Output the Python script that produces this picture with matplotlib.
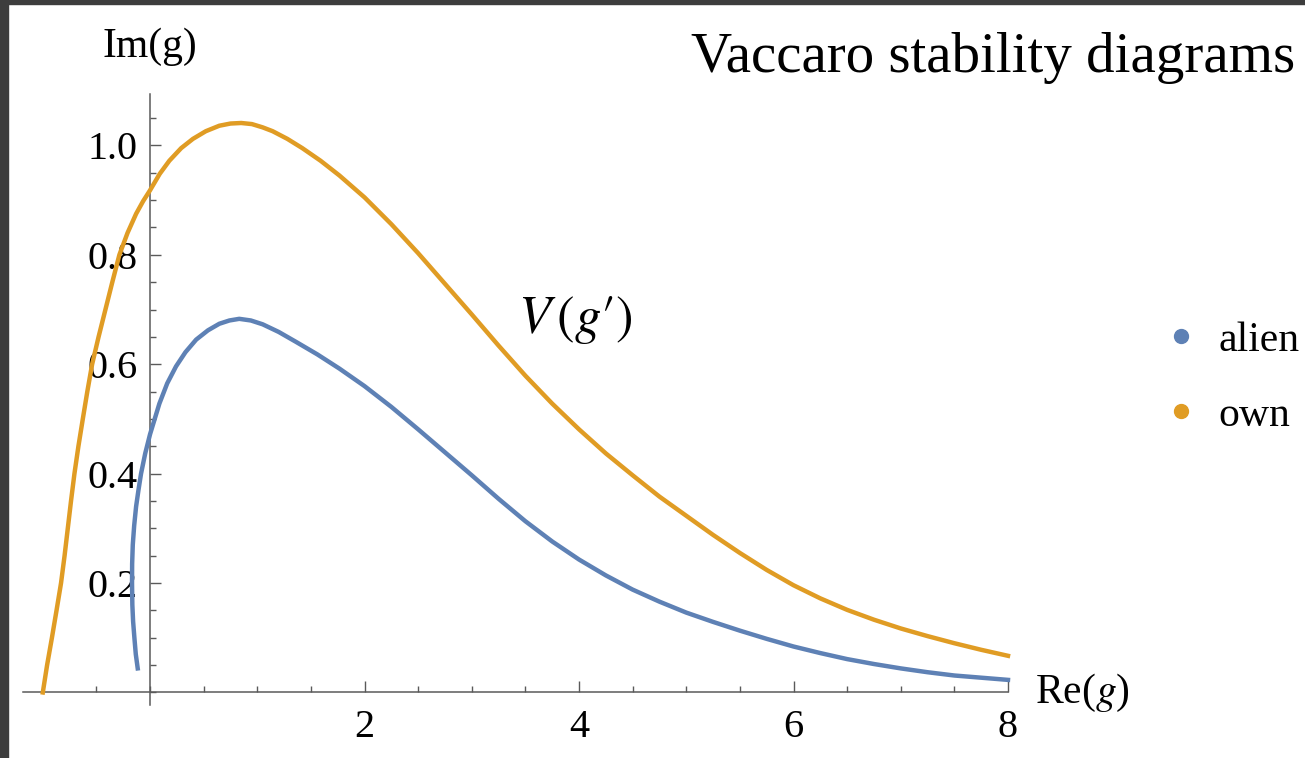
import matplotlib
matplotlib.use("Agg")
import matplotlib.pyplot as plt
from matplotlib.lines import Line2D
from matplotlib.patches import Rectangle
from matplotlib.ticker import FixedLocator, MultipleLocator

plt.rcParams['font.family'] = ['Liberation Serif', 'DejaVu Serif']
plt.rcParams['mathtext.fontset'] = 'stix'

# curva "own" (naranja)
own_x = [-1.00, -0.96, -0.915, -0.872, -0.83, -0.797, -0.767, -0.737, -0.705, -0.668,
         -0.627, -0.585, -0.54, -0.48, -0.416, -0.352, -0.286, -0.21, -0.13, -0.065,
         0.0, 0.09, 0.18, 0.29, 0.40, 0.52, 0.646, 0.75, 0.85, 0.95, 1.05, 1.143,
         1.28, 1.42, 1.59, 1.766, 2.0, 2.25, 2.5, 2.75, 3.0, 3.25, 3.5, 3.75, 4.0,
         4.25, 4.5, 4.75, 5.0, 5.25, 5.5, 5.75, 6.0, 6.25, 6.5, 6.75, 7.0, 7.25,
         7.5, 7.75, 8.0]
own_y = [0.0, 0.05, 0.10, 0.15, 0.20, 0.25, 0.30, 0.35, 0.40, 0.45,
         0.50, 0.55, 0.60, 0.65, 0.70, 0.75, 0.80, 0.84, 0.875, 0.898,
         0.918, 0.948, 0.972, 0.995, 1.012, 1.026, 1.036, 1.040, 1.041, 1.039, 1.033,
         1.026, 1.012, 0.995, 0.972, 0.945, 0.905, 0.856, 0.803, 0.747, 0.691, 0.634,
         0.579, 0.528, 0.481, 0.437, 0.397, 0.358, 0.323, 0.288, 0.255, 0.224, 0.196,
         0.172, 0.151, 0.133, 0.117, 0.103, 0.090, 0.078, 0.067]

# curva "alien" (azul)
alien_x = [-0.115, -0.133, -0.146, -0.158, -0.165, -0.168, -0.167, -0.161, -0.148,
           -0.13, -0.108, -0.084, -0.045, 0.0, 0.087, 0.16, 0.242, 0.33, 0.43, 0.54,
           0.646, 0.74, 0.832, 0.94, 1.05, 1.2, 1.36, 1.56, 1.766, 2.0, 2.25, 2.5,
           2.75, 3.0, 3.25, 3.5, 3.75, 4.0, 4.25, 4.5, 4.75, 5.0, 5.25, 5.5, 5.75,
           6.0, 6.25, 6.5, 6.75, 7.0, 7.25, 7.5, 7.75, 8.0]
alien_y = [0.044, 0.07, 0.10, 0.13, 0.16, 0.20, 0.235, 0.27, 0.305,
           0.34, 0.37, 0.40, 0.437, 0.472, 0.528, 0.565, 0.596, 0.622, 0.645, 0.662,
           0.674, 0.680, 0.683, 0.680, 0.673, 0.659, 0.641, 0.618, 0.592, 0.560, 0.522,
           0.481, 0.439, 0.397, 0.354, 0.313, 0.276, 0.243, 0.214, 0.188, 0.166, 0.146,
           0.129, 0.113, 0.098, 0.084, 0.072, 0.061, 0.052, 0.044, 0.037, 0.031,
           0.027, 0.023]

x_ticks = [2, 4, 6, 8]
y_ticks = [0.2, 0.4, 0.6, 0.8, 1.0]
y_labels = ["0.2", "0.4", "0.6", "0.8", "1.0"]
series_names = ["alien", "own"]
colores = {"alien": "#5E81B5", "own": "#E09C24"}
eje_color = "#5a5a5a"

W, H = 1305, 758
fig = plt.figure(figsize=(W / 100, H / 100), dpi=100)
ax = fig.add_axes([23.5 / W, (H - 704.5) / H, 984.5 / W, 610.5 / H])
ax.set_xlim(-1.18, 8)
ax.set_ylim(-0.022, 1.094)

# ejes estilo Mathematica cruzando en el origen
for lado in ["top", "right"]:
    ax.spines[lado].set_visible(False)
for lado in ["left", "bottom"]:
    ax.spines[lado].set_position(("data", 0))
    ax.spines[lado].set_color(eje_color)
    ax.spines[lado].set_linewidth(1.1)

ax.xaxis.set_major_locator(FixedLocator(x_ticks))
ax.xaxis.set_minor_locator(MultipleLocator(0.5))
ax.yaxis.set_major_locator(FixedLocator(y_ticks))
ax.yaxis.set_minor_locator(MultipleLocator(0.05))
ax.set_yticklabels(y_labels)
ax.tick_params(which="major", direction="in", length=8, width=1.0, color=eje_color,
               labelsize=29, labelcolor="black")
ax.tick_params(which="minor", direction="in", length=4.5, width=1.0, color=eje_color)
ax.tick_params(axis="y", which="major", pad=9)
ax.tick_params(axis="x", which="major", pad=12)

ax.plot(alien_x, alien_y, color=colores["alien"], lw=3.2, zorder=3, clip_on=False)
ax.plot(own_x, own_y, color=colores["own"], lw=3.2, zorder=3, clip_on=False)

ax.text(3.43, 0.68, r"$V\,(g\prime)$", fontsize=38, ha="left", va="center")

fig.text(150 / W, 1 - 57 / H, "Im(g)", fontsize=30, ha="center", va="baseline")
fig.text(1035 / W, 1 - 703 / H, "Re($g$)", fontsize=30, ha="left", va="baseline")
fig.text(1295 / W, 1 - 72 / H, "Vaccaro stability diagrams", fontsize=41,
         ha="right", va="baseline")

handles = [Line2D([], [], marker="o", ls="", color=colores[n], markersize=10)
           for n in series_names]
fig.legend(handles, series_names, loc="center left",
           bbox_to_anchor=(1168 / W, 1 - 378 / H), frameon=False, fontsize=30,
           handlelength=0.6, handletextpad=0.6, labelspacing=0.88,
           borderpad=0, borderaxespad=0)

# marco oscuro de la captura
fig.add_artist(Rectangle((0, 0), 8 / W, 1, transform=fig.transFigure,
                         color="#3d3d3d", zorder=10))
fig.add_artist(Rectangle((0, 1 - 4 / H), 1, 4 / H, transform=fig.transFigure,
                         color="#3d3d3d", zorder=10))

fig.savefig("out.png", dpi=100)
